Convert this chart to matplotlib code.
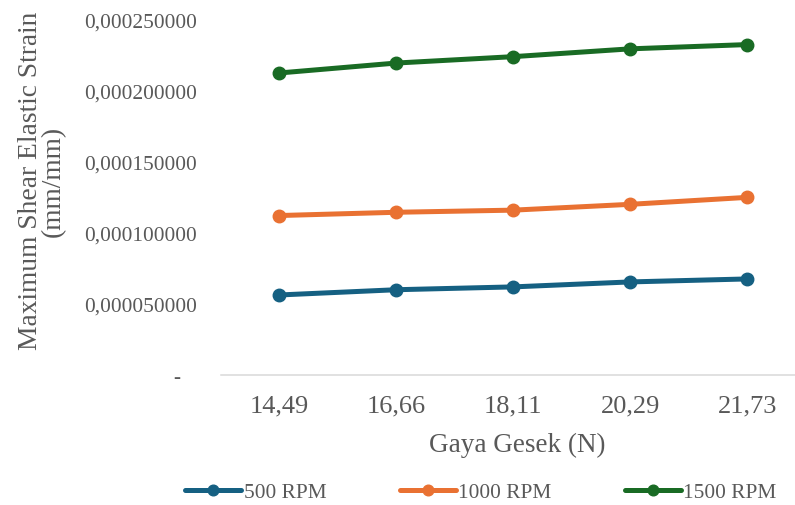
import matplotlib
matplotlib.use("Agg")
import matplotlib.pyplot as plt
from matplotlib.ticker import FixedLocator, FixedFormatter

# data
gaya_gesek = ["14,49", "16,66", "18,11", "20,29", "21,73"]
rpm_500 = [0.0000563, 0.0000600, 0.0000620, 0.0000655, 0.0000676]
rpm_1000 = [0.0001122, 0.0001145, 0.0001160, 0.0001201, 0.0001250]
rpm_1500 = [0.0002125, 0.0002195, 0.0002240, 0.0002295, 0.0002325]
y_ticks = [0, 0.00005, 0.0001, 0.00015, 0.0002, 0.00025]
y_tick_labels = ["-   ", "0,000050000", "0,000100000", "0,000150000",
                 "0,000200000", "0,000250000"]

plt.rcParams["font.family"] = ["Liberation Serif", "DejaVu Serif"]
grey = "#595959"

fig = plt.figure(figsize=(7.95, 5.06), dpi=100)
ax = fig.add_axes([0.2774, 0.2569, 0.7365, 0.7022])

x = range(len(gaya_gesek))
style = dict(linewidth=3.6, marker="o", markersize=9, solid_capstyle="round")
ax.plot(x, rpm_500, color="#156082", label="500 RPM", **style)
ax.plot(x, rpm_1000, color="#E97132", label="1000 RPM", **style)
ax.plot(x, rpm_1500, color="#196B24", label="1500 RPM", **style)

ax.set_xlim(-0.5, len(gaya_gesek) - 0.5)
ax.set_ylim(0, 0.00025)
ax.set_xticks(list(x))
ax.set_xticklabels(gaya_gesek)
ax.yaxis.set_major_locator(FixedLocator(y_ticks))
ax.yaxis.set_major_formatter(FixedFormatter(y_tick_labels))

for side in ["top", "right", "left"]:
    ax.spines[side].set_visible(False)
ax.spines["bottom"].set_color("#D9D9D9")
ax.spines["bottom"].set_linewidth(1.1)

ax.tick_params(axis="x", length=0, pad=14, labelsize=19, labelcolor=grey)
ax.tick_params(axis="y", length=0, pad=17, labelsize=15.4, labelcolor=grey)

fig.text(517 / 795, 1 - 445 / 506, "Gaya Gesek (N)", ha="center", va="center",
         fontsize=19.5, color=grey)
fig.text(42 / 795, 1 - 181 / 506, "Maximum Shear Elastic Strain\n(mm/mm)",
         ha="center", va="center", rotation=90, multialignment="center",
         fontsize=19.8, color=grey, linespacing=0.9)

fig.legend(loc="center", bbox_to_anchor=(481 / 795, 1 - 493 / 506), ncol=3,
           frameon=False, fontsize=15.4, labelcolor=grey, handlelength=2.6,
           handletextpad=0.12, columnspacing=3.45, markerscale=0.85)

fig.savefig("out.png", dpi=100)
